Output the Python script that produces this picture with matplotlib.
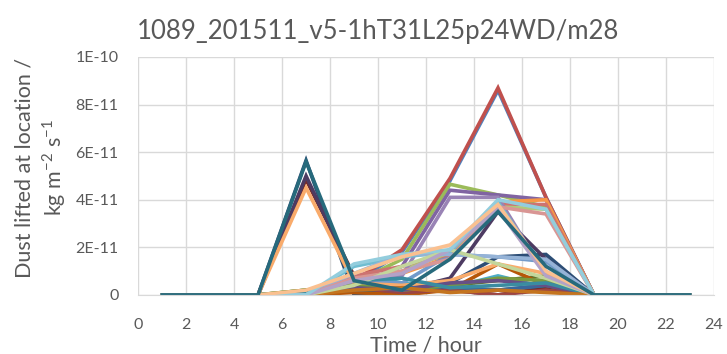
import numpy as np
import matplotlib.pyplot as plt

plt.rcParams['font.family'] = ['Lato', 'DejaVu Sans']

hours = [1, 3, 5, 7, 9, 11, 13, 15, 17, 19, 21, 23]

# dust lifted, in units of 1E-11 kg m-2 s-1, one list per series
series = [
    [0, 0, 0, 0, 0.5, 1.8, 4.8, 8.6, 4.1, 0, 0, 0],
    [0, 0, 0, 0, 0.6, 1.9, 4.9, 8.7, 4.1, 0, 0, 0],
    [0, 0, 0, 0.2, 0.5, 1.5, 4.65, 4.2, 3.7, 0, 0, 0],
    [0, 0, 0, 0, 0.4, 1.2, 4.4, 4.2, 4.0, 0, 0, 0],
    [0, 0, 0, 0.1, 0.9, 0.5, 0.3, 0.8, 0.3, 0, 0, 0],
    [0, 0, 0, 0, 0.3, 0.9, 1.6, 3.9, 4.0, 0, 0, 0],
    [0, 0, 0, 5.65, 0, 0.1, 0.5, 1.6, 1.7, 0, 0, 0],
    [0, 0, 0, 4.85, 0.8, 0.3, 0.2, 0.0, 0.3, 0, 0, 0],
    [0, 0, 0, 0.2, 0.3, 0.1, 0.4, 0.6, 0.8, 0, 0, 0],
    [0, 0, 0, 5.0, 0.7, 0.2, 0.7, 3.5, 1.5, 0, 0, 0],
    [0, 0, 0, 0, 0.2, 0.1, 0.3, 0.2, 0.4, 0, 0, 0],
    [0, 0, 0, 0, 0.1, 0, 0.2, 1.3, 0.4, 0, 0, 0],
    [0, 0, 0, 0, 0.6, 0.5, 1.7, 1.6, 1.4, 0, 0, 0],
    [0, 0, 0, 0, 0.8, 1.2, 1.7, 3.8, 3.8, 0, 0, 0],
    [0, 0, 0, 0.1, 0.4, 1.0, 1.8, 3.7, 3.6, 0, 0, 0],
    [0, 0, 0, 0, 0.5, 0.8, 4.1, 4.1, 0.8, 0, 0, 0],
    [0, 0, 0, 0, 1.2, 1.6, 1.8, 3.9, 0.9, 0, 0, 0],
    [0, 0, 0, 4.5, 0.5, 0.4, 0.6, 1.3, 0.9, 0, 0, 0],
    [0, 0, 0, 0.1, 0.2, 0.3, 0.3, 0.2, 0.4, 0, 0, 0],
    [0, 0, 0, 0, 0.3, 0.1, 0.2, 0, 0.2, 0, 0, 0],
    [0, 0, 0, 0.2, 0.4, 0.2, 0.4, 0.7, 0.6, 0, 0, 0],
    [0, 0, 0, 0, 0.3, 0.2, 0.5, 0.6, 0.4, 0, 0, 0],
    [0, 0, 0, 0.1, 0.6, 0.7, 0.3, 0.4, 0.5, 0, 0, 0],
    [0, 0, 0, 0, 0.2, 0.3, 0.1, 0.2, 0.1, 0, 0, 0],
    [0, 0, 0, 0, 0.9, 1.7, 1.7, 1.6, 1.5, 0, 0, 0],
    [0, 0, 0, 0, 0.7, 1.0, 1.5, 3.7, 3.4, 0, 0, 0],
    [0, 0, 0, 0, 0.4, 1.2, 1.9, 1.3, 0.7, 0, 0, 0],
    [0, 0, 0, 0, 0.6, 0.9, 1.9, 3.6, 0.8, 0, 0, 0],
    [0, 0, 0, 0, 1.3, 1.7, 1.9, 4.0, 3.6, 0, 0, 0],
    [0, 0, 0, 0.2, 0.9, 1.6, 2.1, 3.8, 1.0, 0, 0, 0],
    [0, 0, 0, 5.6, 0.6, 0.2, 1.5, 3.5, 1.2, 0, 0, 0],
]

colors = ['#4F81BD', '#C0504D', '#9BBB59', '#8064A2', '#4BACC6', '#F79646',
          '#2C4D75', '#772C2A', '#5F7530', '#4D3B62', '#276A7C', '#B65708',
          '#729ACA', '#CD7371', '#AFC97A', '#9983B5', '#6FBDD1', '#F9AB6B',
          '#3A679C', '#9C4543', '#7A9A3F', '#664F86', '#3A8CA1', '#C4741F',
          '#95B3D7', '#D99694', '#C3D69B', '#B3A2C7', '#93CDDD', '#FAC090',
          '#276A7C']

ytick_vals = [0, 2e-11, 4e-11, 6e-11, 8e-11, 1e-10]
ytick_labels = ['0', '2E-11', '4E-11', '6E-11', '8E-11', '1E-10']

fig, ax = plt.subplots(figsize=(7.27, 3.54), dpi=100)
fig.subplots_adjust(left=0.19, right=0.982, bottom=0.167, top=0.839)

for vals, c in zip(series, colors):
    ax.plot(hours, np.array(vals) * 1e-11, color=c, lw=2.6, solid_joinstyle='miter')

ax.set_xlim(0, 24)
ax.set_ylim(0, 1e-10)
ax.set_xticks(range(0, 25, 2))
ax.set_yticks(ytick_vals)
ax.set_yticklabels(ytick_labels)

ax.grid(True, color='#D9D9D9', lw=1)
ax.set_axisbelow(True)
for s in ['top', 'right', 'left']:
    ax.spines[s].set_visible(False)
ax.spines['bottom'].set_color('#D9D9D9')
ax.tick_params(length=0, labelsize=11.5, colors='#595959')
ax.tick_params(axis='x', pad=17)
ax.tick_params(axis='y', pad=14)

fig.text(0.52, 1 - 31 / 354, '1089_201511_v5-1hT31L25p24WD/m28', fontsize=18.5,
         color='#595959', ha='center', va='center')
ax.set_xlabel('Time / hour', fontsize=15.5, color='#595959', labelpad=2)
fig.text(41 / 727, 1 - 168 / 354,
         'Dust lifted at location /\nkg m$^{\\mathregular{-2}}$ s$^{\\mathregular{-1}}$',
         fontsize=15.5, color='#595959', linespacing=1.25, rotation=90,
         ha='center', va='center', multialignment='center')

fig.savefig('out.png', dpi=100)
